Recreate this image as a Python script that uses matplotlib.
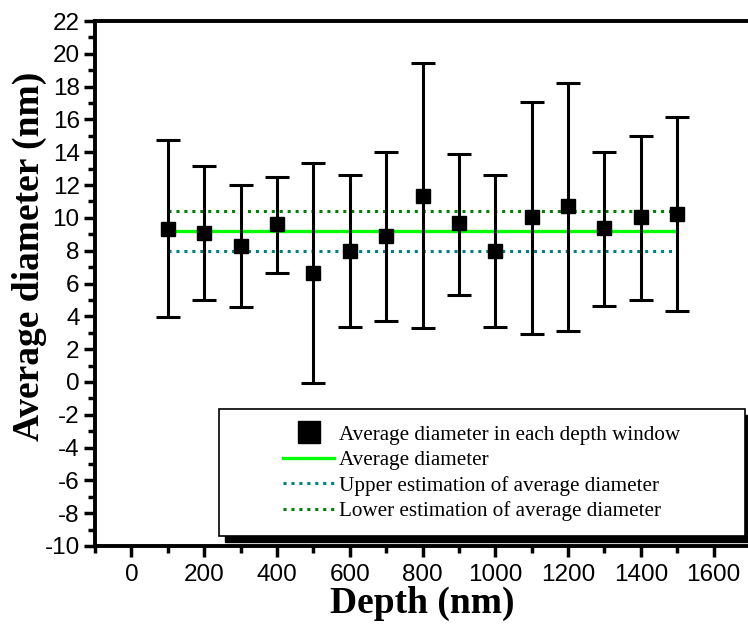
import numpy as np
import matplotlib
matplotlib.use("Agg")
import matplotlib.pyplot as plt
import matplotlib.patches as mpatches
from matplotlib.ticker import MultipleLocator

plt.rcParams['axes.unicode_minus'] = False

# data
depth = np.array([100, 200, 300, 400, 500, 600, 700, 800, 900, 1000, 1100, 1200, 1300, 1400, 1500])
avg_diam = np.array([9.34, 9.07, 8.30, 9.64, 6.67, 8.01, 8.91, 11.36, 9.68, 8.01, 10.05, 10.70, 9.38, 10.05, 10.25])
err_top = np.array([14.76, 13.15, 11.99, 12.48, 13.35, 12.64, 14.03, 19.41, 13.92, 12.64, 17.08, 18.25, 14.03, 15.00, 16.15])
err_bot = np.array([3.93, 5.00, 4.55, 6.67, -0.06, 3.36, 3.71, 3.28, 5.28, 3.36, 2.90, 3.12, 4.63, 5.00, 4.30])
mean_diam = 9.19
upper_est = 7.97
lower_est = 10.44

W, H = 748, 630
fig = plt.figure(figsize=(W / 100, H / 100), dpi=100)
ax = fig.add_axes([95 / W, (H - 546) / H, (750 - 95) / W, (546 - 21) / H])

yerr = np.vstack([avg_diam - err_bot, err_top - avg_diam])
eb = ax.errorbar(depth, avg_diam, yerr=yerr, fmt='s', color='black', ms=9.5,
                 elinewidth=2.2, capsize=8.5, capthick=2.2, zorder=5,
                 label='Average diameter in each depth window')
l1, = ax.plot(depth, np.full(depth.shape, mean_diam), color='#00ff00', lw=2.4,
              zorder=4, label='Average diameter')
l2, = ax.plot(depth, np.full(depth.shape, upper_est), color='#008080', lw=2.2,
              ls=(0, (1, 1.6)), zorder=3, label='Upper estimation of average diameter')
l3, = ax.plot(depth, np.full(depth.shape, lower_est), color='#008000', lw=2.2,
              ls=(0, (1, 1.6)), zorder=3, label='Lower estimation of average diameter')

ax.set_xlim(-100, 1700)
ax.set_ylim(-10, 22)
ax.xaxis.set_major_locator(MultipleLocator(200))
ax.xaxis.set_minor_locator(MultipleLocator(100))
ax.yaxis.set_major_locator(MultipleLocator(2))
ax.yaxis.set_minor_locator(MultipleLocator(1))
ax.tick_params(which='major', direction='out', length=8, width=2.5,
               labelsize=17.5, pad=3)
ax.tick_params(axis='x', which='major', pad=5)
ax.tick_params(which='minor', direction='out', length=5, width=2.5)
for lab in ax.get_xticklabels() + ax.get_yticklabels():
    lab.set_fontfamily('Liberation Sans')
for sp in ax.spines.values():
    sp.set_linewidth(2.8)

ax.set_xlabel('Depth (nm)', fontfamily='Liberation Serif', fontweight='bold',
              fontsize=27, labelpad=0)
ax.set_ylabel('Average diameter (nm)', fontfamily='Liberation Serif', fontweight='bold',
              fontsize=27)
ax.yaxis.set_label_coords(-0.074, 0.552)

# legend frame with shadow
x0, y0, x1, y1 = 219, 409, 745, 536
shadow = mpatches.Rectangle(((x0 + 6) / W, (H - y1 - 6) / H), (x1 - x0) / W, (y1 - y0) / H,
                            transform=fig.transFigure, facecolor='black',
                            edgecolor='black', zorder=8)
frame = mpatches.Rectangle((x0 / W, (H - y1) / H), (x1 - x0) / W, (y1 - y0) / H,
                           transform=fig.transFigure, facecolor='white',
                           edgecolor='black', lw=1.2, zorder=9)
fig.patches.extend([shadow, frame])

handles = [eb[0], l1, l2, l3]
labels = [eb.get_label(), l1.get_label(), l2.get_label(), l3.get_label()]
leg = fig.legend(handles, labels, loc='upper left', bbox_to_anchor=(283 / W, (H - 425) / H),
                 frameon=False, prop={'family': 'Liberation Serif', 'size': 15.2},
                 handlelength=2.43, handletextpad=0.2, labelspacing=0.27,
                 borderpad=0, borderaxespad=0, markerscale=1.65)
leg.set_zorder(10)

fig.savefig('out.png', dpi=100)
